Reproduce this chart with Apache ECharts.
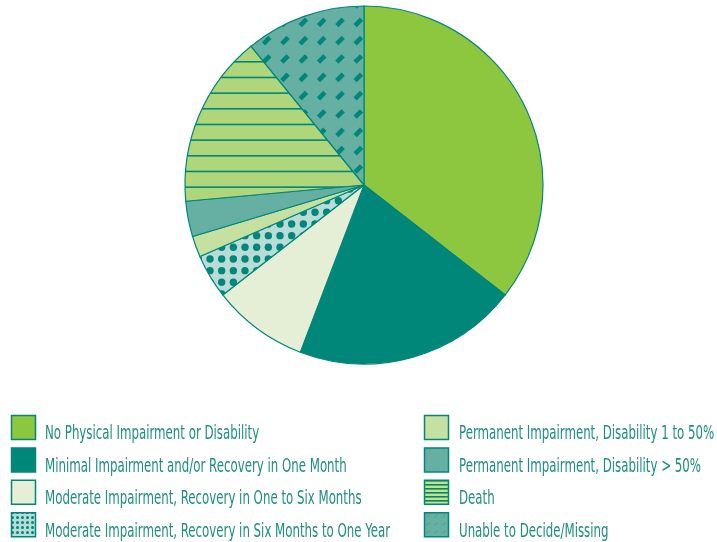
<!DOCTYPE html>
<html>
<head>
<meta charset="utf-8">
<script src="https://cdn.jsdelivr.net/npm/echarts@6/dist/echarts.min.js"></script>
<style>
  html, body { margin: 0; padding: 0; background: #ffffff; }
  #chart { width: 717px; height: 542px; }
</style>
</head>
<body>
<div id="chart"></div>
<script>
// Outcome categories and their shares (percent of cases)
const categories = [
  'No Physical Impairment or Disability',
  'Minimal Impairment and/or Recovery in One Month',
  'Moderate Impairment, Recovery in One to Six Months',
  'Moderate Impairment, Recovery in Six Months to One Year',
  'Permanent Impairment, Disability 1 to 50%',
  'Permanent Impairment, Disability > 50%',
  'Death',
  'Unable to Decide/Missing'
];
const shares = [35.6, 20.3, 8.7, 4.0, 1.9, 3.2, 15.6, 10.9];

const TEAL = '#00877A';
const TEXT_COLOR = '#1E8E7E';
const LEGEND_FONT = '19px "DejaVu Sans Condensed", "DejaVu Sans", sans-serif';

function tile(w, h, draw) {
  const c = document.createElement('canvas');
  c.width = w; c.height = h;
  const g = c.getContext('2d');
  draw(g, w, h);
  return c;
}
function pattern(canvas) {
  return { image: canvas, repeat: 'repeat' };
}

// Dotted fill: teal dots on a pale aqua ground
const dotsTile = tile(35, 35, (g, w, h) => {
  g.fillStyle = '#B9DCD6'; g.fillRect(0, 0, w, h);
  g.fillStyle = TEAL;
  const step = 35 / 3;
  for (let i = -1; i <= 3; i++) {
    for (let j = -1; j <= 3; j++) {
      g.beginPath();
      g.arc(i * step, 2.3 + j * step, 3.7, 0, Math.PI * 2);
      g.fill();
    }
  }
});
const dotsSmall = tile(5, 5, (g) => {
  g.fillStyle = '#B9DCD6'; g.fillRect(0, 0, 5, 5);
  g.fillStyle = TEAL;
  g.beginPath(); g.arc(2.5, 2.5, 1.5, 0, Math.PI * 2); g.fill();
});

// Horizontal rules on light green
const stripeTile = tile(4, 47, (g, w, h) => {
  g.fillStyle = '#AFD67A'; g.fillRect(0, 0, w, h);
  g.fillStyle = TEAL;
  const step = 47 / 3;
  for (let k = 0; k < 3; k++) {
    g.fillRect(0, 14.0 + k * step, w, 1.6);
  }
});
const stripeSmall = tile(4, 4, (g) => {
  g.fillStyle = '#C6E182'; g.fillRect(0, 0, 4, 4);
  g.fillStyle = TEAL; g.fillRect(0, 0, 4, 1.6);
});

// Short diagonal dashes on mid teal
function drawDash(g, cx, cy, len, thick) {
  g.save();
  g.translate(cx, cy);
  g.rotate(-Math.PI / 4);
  g.fillRect(-len / 2, -thick / 2, len, thick);
  g.restore();
}
const dashTile = tile(55, 55, (g, w, h) => {
  g.fillStyle = '#66AFA3'; g.fillRect(0, 0, w, h);
  g.fillStyle = TEAL;
  const step = 55 / 3;
  for (let i = -1; i <= 3; i++) {
    for (let j = -1; j <= 3; j++) {
      drawDash(g, 10 + i * step, 4 + j * step, 9, 4.6);
    }
  }
});
const dashSmall = tile(8, 8, (g) => {
  g.fillStyle = '#66AFA3'; g.fillRect(0, 0, 8, 8);
  g.fillStyle = '#55A396';
  drawDash(g, 4, 4, 4, 1.2);
});

const fills = [
  '#8DC63F',
  TEAL,
  '#E5EFD6',
  pattern(dotsTile),
  '#C5E0A0',
  '#66AFA3',
  pattern(stripeTile),
  pattern(dashTile)
];
const swatchFills = [
  '#8DC63F',
  TEAL,
  '#E5EFD6',
  pattern(dotsSmall),
  '#C5E0A0',
  '#66AFA3',
  pattern(stripeSmall),
  pattern(dashSmall)
];

const pieData = categories.map((name, i) => ({
  name,
  value: shares[i],
  itemStyle: { color: fills[i] }
}));

// Key below the pie: two columns of four swatches with condensed captions
const keyColumns = [{ swatchX: 11.5, textX: 45 }, { swatchX: 424.5, textX: 459 }];
const keyTop = 415.5;
const keyPitch = 32.4;
const keyElements = [];
categories.forEach((name, i) => {
  const col = keyColumns[Math.floor(i / 4)];
  const row = i % 4;
  const top = keyTop + row * keyPitch;
  keyElements.push({
    type: 'rect',
    silent: true,
    shape: { x: col.swatchX, y: top, width: 24, height: 24 },
    style: { fill: swatchFills[i], stroke: TEAL, lineWidth: 1.5 }
  });
  keyElements.push({
    type: 'text',
    silent: true,
    x: col.textX,
    y: top + 19,
    scaleX: 0.69,
    style: {
      text: name,
      font: LEGEND_FONT,
      fill: TEXT_COLOR,
      verticalAlign: 'middle'
    }
  });
});

const chart = echarts.init(document.getElementById('chart'), null, { renderer: 'canvas' });
chart.setOption({
  animation: false,
  backgroundColor: '#ffffff',
  graphic: keyElements,
  series: [{
    type: 'pie',
    center: [364, 185],
    radius: 179,
    startAngle: 90,
    clockwise: true,
    avoidLabelOverlap: false,
    label: { show: false },
    labelLine: { show: false },
    emphasis: { disabled: true },
    itemStyle: { borderColor: TEAL, borderWidth: 1.2 },
    data: pieData
  }]
});
</script>
</body>
</html>
